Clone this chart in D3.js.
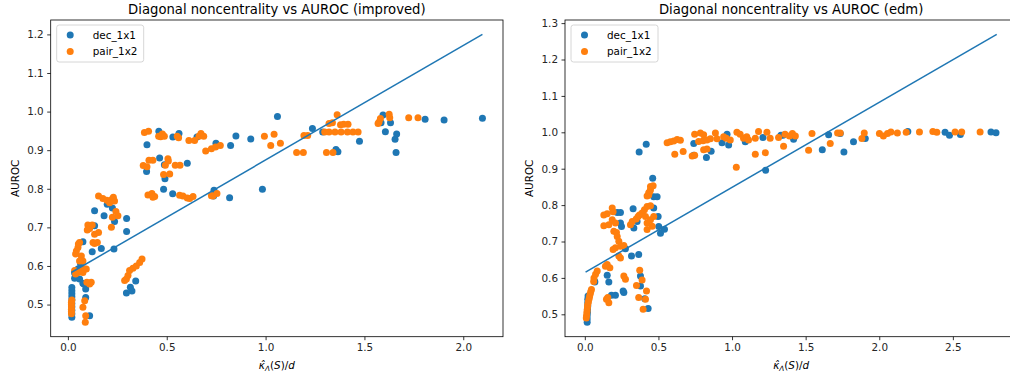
<!DOCTYPE html>
<html>
<head>
<meta charset="utf-8">
<script src="https://cdn.jsdelivr.net/npm/d3@7"></script>
<style>
  body { margin: 0; background: #fff; }
  svg { font-family: "DejaVu Sans", sans-serif; }
</style>
</head>
<body>
<div id="chart"></div>
<script>
// ---- data ----
const seriesNames = ["dec_1x1", "pair_1x2"];
const seriesColors = ["#1f77b4", "#ff7f0e"];

const improvedDec = [
  [0.02,0.467],[0.02,0.476],[0.02,0.485],[0.02,0.494],[0.02,0.503],[0.02,0.512],[0.02,0.520],[0.02,0.528],[0.02,0.536],[0.02,0.544],
  [0.034,0.582],[0.034,0.568],[0.059,0.566],[0.051,0.592],[0.064,0.605],[0.076,0.663],[0.076,0.555],[0.081,0.553],[0.090,0.540],[0.090,0.518],[0.110,0.471],
  [0.123,0.637],[0.135,0.704],[0.135,0.743],[0.169,0.645],[0.183,0.730],[0.199,0.760],[0.225,0.750],[0.233,0.644],[0.236,0.715],[0.297,0.723],[0.297,0.689],
  [0.296,0.530],[0.316,0.545],[0.324,0.535],[0.343,0.561],
  [0.398,0.845],[0.40,0.914],[0.46,0.949],[0.464,0.880],[0.488,0.862],[0.491,0.826],[0.484,0.799],[0.530,0.787],[0.531,0.934],[0.562,0.943],
  [0.604,0.866],[0.653,0.934],[0.739,0.796],[0.737,0.781],[0.749,0.918],[0.818,0.777],[0.823,0.912],[0.850,0.937],[0.925,0.929],[0.984,0.799],
  [1.06,0.987],[1.237,0.956],[1.289,0.947],[1.356,0.902],[1.366,0.896],[1.475,0.923],[1.584,0.971],[1.594,0.991],[1.606,0.948],[1.632,0.971],
  [1.655,0.928],[1.660,0.894],[1.663,0.942],[1.807,0.980],[1.903,0.978],[2.097,0.983]
];
const improvedPair = [
  [0.018,0.476],[0.018,0.482],[0.018,0.488],[0.018,0.494],[0.018,0.500],[0.018,0.506],[0.02,0.512],
  [0.085,0.510],[0.076,0.493],[0.090,0.471],[0.088,0.454],
  [0.118,0.558],[0.110,0.553],[0.096,0.558],
  [0.034,0.588],[0.051,0.583],[0.039,0.579],[0.068,0.588],[0.076,0.583],[0.085,0.592],[0.093,0.592],
  [0.068,0.626],[0.076,0.613],[0.059,0.613],
  [0.059,0.661],[0.051,0.648],[0.043,0.639],[0.039,0.631],[0.053,0.657],
  [0.101,0.706],[0.110,0.697],[0.123,0.706],[0.098,0.693],
  [0.135,0.682],[0.155,0.687],[0.149,0.661],[0.135,0.658],[0.127,0.661],
  [0.243,0.741],[0.253,0.730],[0.225,0.726],[0.220,0.700],
  [0.155,0.781],[0.177,0.775],[0.197,0.770],[0.223,0.773],[0.236,0.768],[0.211,0.764],[0.230,0.778],
  [0.287,0.562],[0.296,0.566],[0.304,0.575],[0.312,0.588],[0.329,0.594],[0.346,0.600],[0.363,0.609],[0.375,0.618],
  [0.381,0.860],[0.400,0.857],[0.41,0.874],[0.43,0.874],[0.387,0.946],[0.408,0.949],
  [0.405,0.784],[0.425,0.788],[0.439,0.780],[0.430,0.778],
  [0.459,0.936],[0.469,0.935],[0.478,0.942],[0.488,0.936],
  [0.493,0.861],[0.506,0.878],[0.508,0.872],[0.543,0.861],[0.567,0.861],[0.484,0.837],[0.515,0.838],
  [0.553,0.936],[0.56,0.932],
  [0.565,0.783],[0.582,0.781],[0.604,0.776],[0.616,0.775],[0.633,0.780],
  [0.612,0.925],[0.641,0.925],[0.663,0.936],[0.673,0.943],[0.687,0.936],
  [0.697,0.898],[0.726,0.904],[0.747,0.908],[0.771,0.912],
  [0.726,0.782],[0.734,0.781],[0.754,0.788],
  [0.994,0.936],[1.026,0.912],[1.043,0.941],[1.075,0.918],
  [1.157,0.894],[1.191,0.894],[1.194,0.938],[1.213,0.938],
  [1.299,0.947],[1.321,0.947],[1.351,0.947],[1.382,0.947],[1.414,0.947],[1.442,0.947],[1.468,0.947],
  [1.308,0.894],[1.341,0.894],
  [1.321,0.969],[1.338,0.971],[1.362,0.992],[1.379,0.966],[1.395,0.967],[1.417,0.967],
  [1.569,0.969],[1.574,0.973],[1.581,0.982],[1.625,0.993],[1.628,0.984],
  [1.724,0.984],[1.771,0.984]
];
const improvedFit = [[0.017,0.583],[2.097,1.2]];

const edmDec = [
  [0.016,0.478],[0.016,0.487],[0.016,0.496],[0.018,0.505],[0.018,0.514],[0.02,0.523],[0.02,0.532],[0.02,0.541],[0.022,0.550],
  [0.066,0.591],[0.068,0.589],
  [0.152,0.607],[0.163,0.589],[0.181,0.552],[0.208,0.552],
  [0.220,0.780],[0.242,0.780],[0.242,0.751],[0.249,0.741],
  [0.260,0.564],[0.265,0.560],[0.276,0.680],
  [0.317,0.660],[0.366,0.664],[0.328,0.790],[0.333,0.737],[0.355,0.755],
  [0.378,0.605],[0.378,0.578],[0.407,0.543],[0.430,0.516],
  [0.369,0.946],[0.417,0.967],[0.461,0.874],
  [0.468,0.823],[0.491,0.823],[0.468,0.792],[0.498,0.769],[0.502,0.741],[0.514,0.723],[0.541,0.734],
  [0.740,0.969],[0.740,0.937],[0.826,0.931],[0.858,0.948],[0.932,0.971],[0.966,0.995],[0.977,0.965],[1.09,0.974],[1.21,0.986],
  [1.228,0.896],[1.332,0.992],[1.346,0.992],[1.418,0.981],
  [1.613,0.952],[1.656,0.993],[1.735,0.997],[1.760,0.946],[1.825,0.974],[1.905,0.983],[2.194,1.002],[2.447,1.0],
  [2.477,0.992],[2.551,0.994],[2.759,1.001],[2.793,0.999]
];
const edmPair = [
  [0.01,0.490],[0.012,0.497],[0.014,0.505],[0.016,0.512],[0.018,0.520],[0.02,0.527],[0.024,0.534],[0.028,0.541],[0.032,0.548],[0.036,0.555],[0.04,0.562],[0.045,0.568],
  [0.060,0.590],[0.062,0.600],[0.073,0.610],[0.084,0.619],
  [0.129,0.773],[0.152,0.776],[0.186,0.792],[0.192,0.782],[0.129,0.743],[0.163,0.746],
  [0.186,0.760],[0.208,0.751],[0.197,0.728],[0.215,0.725],[0.220,0.714],[0.231,0.701],[0.208,0.683],[0.192,0.678],[0.242,0.687],[0.265,0.689],[0.231,0.660],[0.242,0.655],
  [0.152,0.637],[0.170,0.628],[0.140,0.632],
  [0.265,0.605],[0.276,0.596],
  [0.147,0.541],[0.163,0.532],[0.156,0.546],
  [0.310,0.746],[0.322,0.755],[0.349,0.762],[0.362,0.769],[0.371,0.773],
  [0.389,0.778],[0.412,0.769],[0.405,0.787],[0.423,0.796],[0.446,0.798],[0.434,0.828],[0.441,0.837],[0.446,0.842],
  [0.423,0.751],[0.446,0.760],[0.468,0.769],[0.457,0.742],[0.423,0.733],
  [0.373,0.621],[0.389,0.594],[0.351,0.579],[0.366,0.546],[0.419,0.564],[0.396,0.514],[0.412,0.541],
  [0.446,0.851],[0.464,0.853],[0.434,0.834],[0.423,0.825],
  [0.559,0.971],[0.581,0.974],[0.604,0.976],[0.627,0.980],[0.649,0.978],
  [0.611,0.940],[0.668,0.947],[0.729,0.935],[0.746,0.937],
  [0.746,0.995],[0.785,0.998],[0.807,0.993],[0.773,0.975],[0.803,0.977],[0.830,0.979],[0.853,0.982],[0.887,0.998],[0.898,0.982],
  [0.943,0.988],[0.961,0.984],[0.988,0.979],[1.033,1.0],[1.055,0.995],[1.078,0.984],[1.100,0.988],[1.112,0.979],[1.158,0.984],
  [1.180,1.002],[1.237,1.0],[1.259,0.984],[1.316,0.986],[1.350,0.962],[1.158,0.940],[1.226,0.944],[1.029,0.904],[0.807,0.952],[0.830,0.954],
  [1.36,0.995],[1.41,0.997],[1.43,0.990],[1.39,0.990],
  [1.543,0.997],[1.520,0.951],[1.667,0.969],[1.717,0.998],[1.735,0.998],[1.882,0.983],[1.898,0.998],
  [2.001,0.997],[2.028,0.990],[2.056,0.997],[2.079,1.001],[2.123,0.998],[2.183,1.0],[2.273,1.001],[2.364,1.002],[2.391,1.0],
  [2.515,1.001],[2.560,1.001],[2.685,1.001]
];
const edmFit = [[0.005,0.616],[2.798,1.269]];

const improvedXTicks = [0.0, 0.5, 1.0, 1.5, 2.0];
const improvedYTicks = [0.5, 0.6, 0.7, 0.8, 0.9, 1.0, 1.1, 1.2];
const edmXTicks = [0.0, 0.5, 1.0, 1.5, 2.0, 2.5];
const edmYTicks = [0.5, 0.6, 0.7, 0.8, 0.9, 1.0, 1.1, 1.2, 1.3];

const panels = [
  { title: "Diagonal noncentrality vs AUROC (improved)", series: [improvedDec, improvedPair], fit: improvedFit,
    xTicks: improvedXTicks, yTicks: improvedYTicks, left: 50.7 },
  { title: "Diagonal noncentrality vs AUROC (edm)", series: [edmDec, edmPair], fit: edmFit,
    xTicks: edmXTicks, yTicks: edmYTicks, left: 565 }
];

const width = 1010, height = 381;
const plotW = 452.3, plotTop = 20, plotBottom = 336.7;

const svg = d3.select("#chart").append("svg")
  .attr("width", width).attr("height", height);

// matplotlib style limits: data extent plus 5% each side
function padded(vals) {
  const lo = d3.min(vals), hi = d3.max(vals), m = (hi - lo) * 0.05;
  return [lo - m, hi + m];
}

panels.forEach((p) => {
  const all = p.series.flat().concat(p.fit);
  const x = d3.scaleLinear().domain(padded(all.map((d) => d[0]))).range([p.left, p.left + plotW]);
  const y = d3.scaleLinear().domain(padded(all.map((d) => d[1]))).range([plotBottom, plotTop]);

  const g = svg.append("g");

  // scatter
  p.series.forEach((pts, i) => {
    g.append("g").selectAll("circle").data(pts).join("circle")
      .attr("cx", (d) => x(d[0]))
      .attr("cy", (d) => y(d[1]))
      .attr("r", 3.5)
      .attr("fill", seriesColors[i]);
  });

  // fitted line
  g.append("path").datum(p.fit)
    .attr("d", d3.line().x((d) => x(d[0])).y((d) => y(d[1])))
    .attr("fill", "none").attr("stroke", "#1f77b4").attr("stroke-width", 1.5);

  // axes
  const xAxis = d3.axisBottom(x).tickValues(p.xTicks).tickFormat(d3.format(".1f")).tickSize(3.5).tickPadding(3.5);
  const yAxis = d3.axisLeft(y).tickValues(p.yTicks).tickFormat(d3.format(".1f")).tickSize(3.5).tickPadding(3.5);
  g.append("g").attr("transform", `translate(0,${plotBottom})`).call(xAxis);
  g.append("g").attr("transform", `translate(${p.left},0)`).call(yAxis);
  g.selectAll(".domain").remove();
  g.selectAll(".tick line").attr("stroke", "#000").attr("stroke-width", 0.8);
  g.selectAll(".tick text").attr("font-size", 10.4).attr("fill", "#262626")
    .attr("font-family", "DejaVu Sans, sans-serif");

  // frame
  g.append("rect")
    .attr("x", p.left).attr("y", plotTop).attr("width", plotW).attr("height", plotBottom - plotTop)
    .attr("fill", "none").attr("stroke", "#000").attr("stroke-width", 0.8);

  const cx = p.left + plotW / 2;
  g.append("text").attr("x", cx).attr("y", 13.5).attr("text-anchor", "middle")
    .attr("font-size", 13.2).attr("fill", "#000").text(p.title);

  g.append("text")
    .attr("transform", `translate(${p.left - 32},${(plotTop + plotBottom) / 2}) rotate(-90)`)
    .attr("text-anchor", "middle").attr("font-size", 10.4).attr("fill", "#000").text("AUROC");

  // x label: kappa-hat sub Lambda (S)/d
  const xl = g.append("text").attr("x", cx).attr("y", 369).attr("text-anchor", "middle")
    .attr("font-size", 10.4).attr("fill", "#000");
  xl.append("tspan").attr("font-style", "italic").text("κ̂");
  xl.append("tspan").attr("font-size", 7.3).attr("font-style", "italic").attr("dy", 2).text("Λ");
  xl.append("tspan").attr("dy", -2).text("(");
  xl.append("tspan").attr("font-style", "italic").text("S");
  xl.append("tspan").text(")/");
  xl.append("tspan").attr("font-style", "italic").text("d");

  // legend
  const lg = g.append("g").attr("transform", `translate(${p.left + 6},25)`);
  lg.append("rect").attr("width", 87).attr("height", 37).attr("rx", 2.5)
    .attr("fill", "#fff").attr("fill-opacity", 0.8).attr("stroke", "#ccc").attr("stroke-width", 0.8);
  seriesNames.forEach((name, i) => {
    lg.append("circle").attr("cx", 13.5).attr("cy", 10 + i * 16.5).attr("r", 3.5).attr("fill", seriesColors[i]);
    lg.append("text").attr("x", 36).attr("y", 13.7 + i * 16.5).attr("font-size", 10.4).attr("fill", "#000").text(name);
  });
});
</script>
</body>
</html>
